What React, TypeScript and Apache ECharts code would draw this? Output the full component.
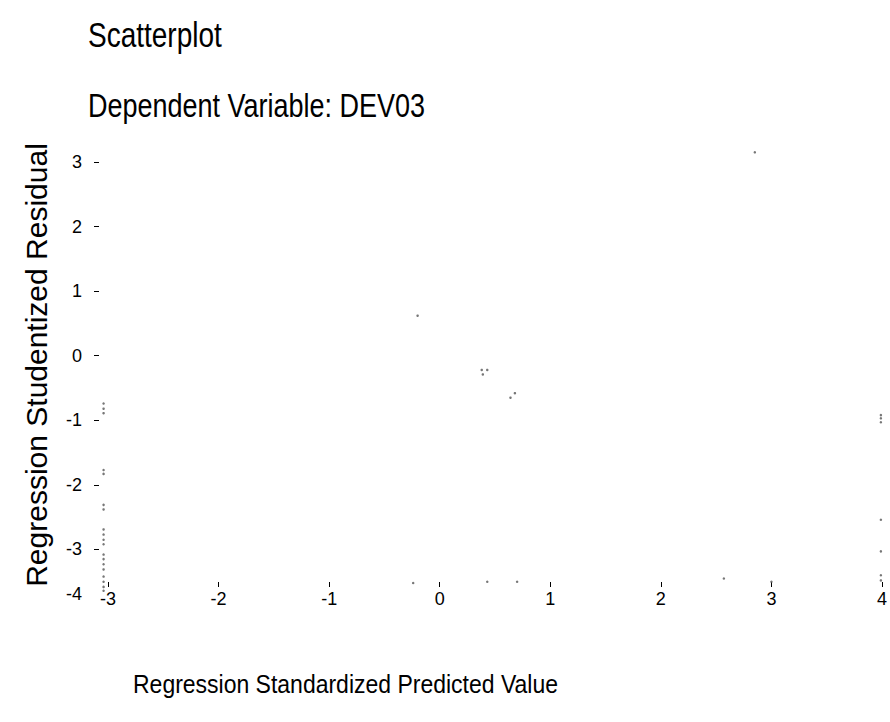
import React, { useEffect, useRef } from "react";
import * as echarts from "echarts";

const titleMain = "Scatterplot";
const titleSub = "Dependent Variable: DEV03";
const xAxisTitle = "Regression Standardized Predicted Value";
const yAxisTitle = "Regression Studentized Residual";

const xTicks = [-3, -2, -1, 0, 1, 2, 3, 4];
const yTicks = [-4, -3, -2, -1, 0, 1, 2, 3];
const yTickMarks = [-3, -2, -1, 0, 1, 2, 3];

// predicted (x) and residual (y) values
const predicted = [
  2.85, -0.2, 0.38, 0.43, 0.39, 0.68, 0.64,
  -3.04, -3.04, -3.04, -3.04, -3.04, -3.04, -3.04, -3.04, -3.04, -3.04, -3.04,
  -3.04, -3.04, -3.04, -3.04, -3.04, -3.04, -3.04, -3.04,
  3.99, 3.99, 3.99, 3.99, 3.99, 3.99, 3.99,
  -0.24, 0.43, 0.7, 2.57, 3.0,
];
const residual = [
  3.15, 0.62, -0.22, -0.22, -0.29, -0.58, -0.65,
  -0.74, -0.82, -0.89, -1.77, -1.83, -2.31, -2.38, -2.69, -2.77, -2.85, -2.92,
  -3.08, -3.15, -3.23, -3.31, -3.42, -3.5, -3.58, -3.64,
  -0.92, -0.97, -1.03, -2.54, -3.03, -3.4, -3.48,
  -3.52, -3.5, -3.5, -3.45, -3.5,
];

const FONT = "'Liberation Sans', Arial, Helvetica, sans-serif";

export default function App() {
  const ref = useRef<HTMLDivElement>(null);
  useEffect(() => {
    if (!ref.current) return;
    const chart = echarts.init(ref.current, undefined, { renderer: "svg" });
    const points = predicted.map((x, i) => [x, residual[i]]);
    chart.setOption({
      animation: false,
      backgroundColor: "#ffffff",
      textStyle: { fontFamily: FONT },
      grid: { left: 108, right: 6, top: 162, bottom: 108, containLabel: false },
      xAxis: {
        type: "value",
        min: xTicks[0],
        max: xTicks[xTicks.length - 1],
        interval: 1,
        offset: -27,
        axisLine: { show: false, onZero: false },
        axisTick: { show: true, inside: true, length: 5, lineStyle: { color: "#000" } },
        splitLine: { show: false },
        axisLabel: { color: "#000", fontSize: 18, fontFamily: FONT, margin: 3 },
      },
      yAxis: {
        type: "value",
        min: yTicks[0],
        max: yTicks[yTicks.length - 1],
        interval: 1,
        offset: 9,
        axisLine: { show: false, onZero: false },
        axisTick: {
          show: true,
          length: 5,
          customValues: yTickMarks,
          lineStyle: { color: "#000" },
        },
        splitLine: { show: false },
        axisLabel: {
          color: "#000",
          fontSize: 18,
          fontFamily: FONT,
          margin: 17,
          formatter: (v: number) => (v === -4 ? "{low|-4}" : String(v)),
          rich: { low: { fontSize: 18, fontFamily: FONT, color: "#000", padding: [0, 0, 40, 0] } },
        },
      },
      graphic: [
        {
          type: "text",
          x: 88,
          y: 35,
          scaleY: 1.25,
          style: {
            text: titleMain,
            fontSize: 28,
            fontFamily: FONT,
            fill: "#000",
            align: "left",
            verticalAlign: "middle",
          },
        },
        {
          type: "text",
          x: 88,
          y: 105,
          scaleY: 1.25,
          style: {
            text: titleSub,
            fontSize: 27,
            fontFamily: FONT,
            fill: "#000",
            align: "left",
            verticalAlign: "middle",
          },
        },
        {
          type: "text",
          x: 133,
          y: 684,
          scaleY: 1.1,
          style: {
            text: xAxisTitle,
            fontSize: 23,
            fontFamily: FONT,
            fill: "#000",
            align: "left",
            verticalAlign: "middle",
          },
        },
        {
          type: "text",
          x: 36,
          y: 365,
          rotation: Math.PI / 2,
          style: {
            text: yAxisTitle,
            fontSize: 30,
            fontFamily: FONT,
            fill: "#000",
            align: "center",
            verticalAlign: "middle",
          },
        },
      ],
      series: [
        {
          type: "scatter",
          data: points,
          clip: false,
          symbol: "circle",
          symbolSize: 2.5,
          itemStyle: { color: "#555" },
        },
      ],
    });
    return () => chart.dispose();
  }, []);
  return (
    <div
      ref={ref}
      style={{ position: "absolute", left: 0, top: 0, width: 890, height: 722 }}
    />
  );
}
